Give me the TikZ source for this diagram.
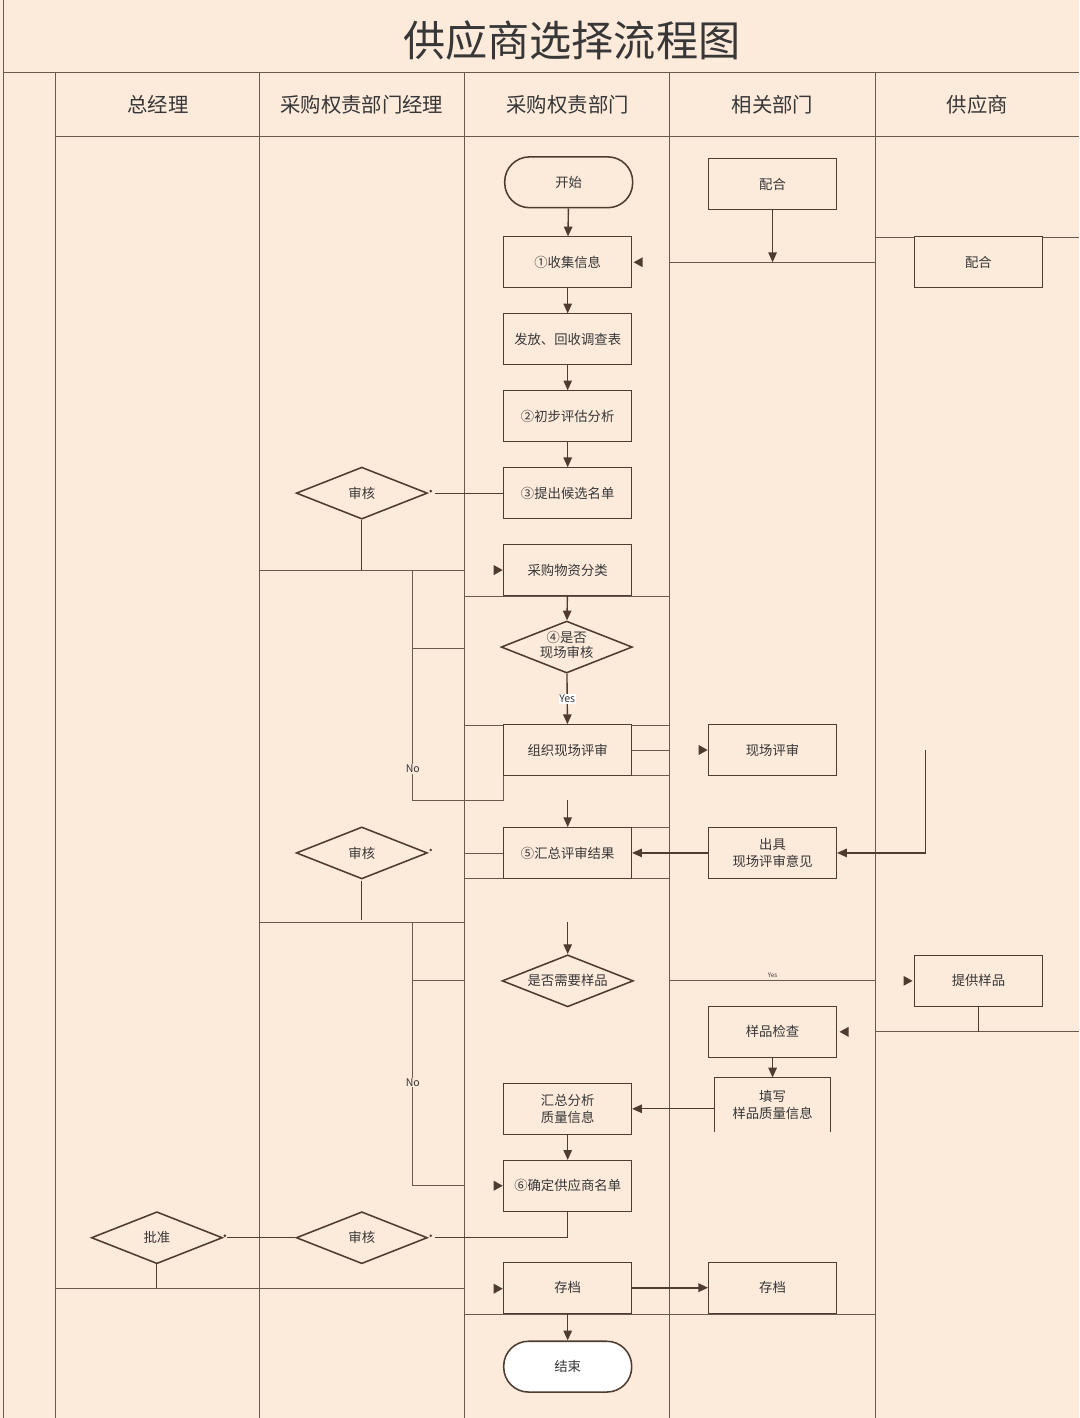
\documentclass[tikz,border=0pt]{standalone}
\usepackage{fontspec}
\setmainfont{Noto Sans CJK SC}
\usetikzlibrary{shapes.geometric,arrows.meta}
\definecolor{paper}{RGB}{252,234,219}
\definecolor{ink}{RGB}{78,60,48}
\definecolor{txt}{RGB}{55,55,55}
% stray arrow heads: tip point given
\newcommand{\headR}[1]{\fill[ink] #1 -- ++(-9,-5) -- ++(0,10) -- cycle;}
\newcommand{\headL}[1]{\fill[ink] #1 -- ++(9,-5) -- ++(0,10) -- cycle;}
\begin{document}
\begin{tikzpicture}[x=0.025cm, y=-0.025cm, color=ink,
  every node/.style={font=\fontsize{9.5}{12}\selectfont, text=txt},
  box/.style={draw=ink, line width=0.6pt, fill=paper, minimum width=3.2cm, minimum height=1.27cm, inner sep=1pt, align=center},
  term/.style={box, rounded corners=0.62cm, line width=1.1pt},
  dec/.style={draw=ink, diamond, aspect=2.5, line width=1.1pt, fill=paper, minimum width=3.28cm, minimum height=1.3cm, inner sep=0pt, align=center},
  arr/.style={-{Triangle[length=7pt,width=6pt]}, line width=1pt},
  lane/.style={ink!85, line width=0.55pt},
  head/.style={font=\fontsize{14.5}{16}\selectfont}]
  \fill[paper] (0,0) rectangle (1080,1418);
  % frame and lanes
  \draw[lane] (3,0) -- (3,1418) (3,72) -- (1080,72) (55,72) -- (55,1418) (55,136) -- (1080,136);
  \foreach \x in {260,465,670,876} \draw[lane] (\x,72) -- (\x,1418);
  \node (title) at (572,40) {\fontsize{30}{34}\selectfont 供应商选择流程图};
  \foreach \x/\lbl in {158/总经理,362/采购权责部门经理,568/采购权责部门,773/相关部门,978/供应商}
    \node[head] at (\x,104) {\lbl};
  % odd lane segments
  \draw[lane] (670,262) -- (876,262) (876,237) -- (1080,237);
  \draw[lane] (260,570) -- (465,570) (465,596) -- (670,596);
  \draw[lane] (413,570) -- (413,800) -- (504,800) -- (504,725) (413,648) -- (465,648);
  \draw[lane] (465,725) -- (670,725) (504,775) -- (670,775) (632,750) -- (670,750);
  \draw[lane] (465,853) -- (504,853) (504,827) -- (670,827) (465,878) -- (670,878);
  \draw[lane] (260,922) -- (465,922) (413,922) -- (413,1186) -- (465,1186) (413,981) -- (465,981);
  \draw[lane] (876,1032) -- (1080,1032) (55,1289) -- (465,1289) (465,1315) -- (876,1315);
  \draw[lane] (670,981) -- node[above=-1pt, font=\fontsize{4.5}{5}\selectfont] {Yes} (876,981);
  \node[fill=paper, inner sep=0.5pt, font=\fontsize{7.5}{8}\selectfont] at (413,769) {No};
  \node[fill=paper, inner sep=0.5pt, font=\fontsize{7.5}{8}\selectfont] at (413,1083) {No};
  % main column
  \node[term] (start) at (569,182) {开始};
  \node[box] (n1) at (568,262) {①收集信息};
  \node[box] (n2) at (568,339) {发放、回收调查表};
  \node[box] (n3) at (568,416) {②初步评估分析};
  \node[box] (n4) at (568,493) {③提出候选名单};
  \node[box] (cls) at (568,570) {采购物资分类};
  \node[dec] (q4) at (567,647) {};
  \node[align=center, font=\fontsize{9.5}{11}\selectfont] (q4t) at (567,645) {④是否\\现场审核};
  \node[box] (org) at (568,750) {组织现场评审};
  \node[box] (sum5) at (568,853) {⑤汇总评审结果};
  \node[dec] (qs) at (568,981) {是否需要样品};
  \node[box] (ana) at (568,1109) {汇总分析\\质量信息};
  \node[box] (list6) at (568,1186) {⑥确定供应商名单};
  \node[box] (arch) at (568,1288) {存档};
  \node[term, fill=white] (end) at (568,1367) {结束};
  % other lanes
  \node[box] (coop1) at (773,184) {配合};
  \node[box] (coop2) at (979,262) {配合};
  \node[box] (site) at (773,750) {现场评审};
  \node[box] (opin) at (773,853) {出具\\现场评审意见};
  \node[box] (prov) at (979,981) {提供样品};
  \node[box] (chk) at (773,1032) {样品检查};
  \node[minimum width=2.88cm, minimum height=1.35cm, align=center] (fillq) at (773,1105) {填写\\样品质量信息};
  \draw[line width=0.6pt] (fillq.south west) -- (fillq.north west) -- (fillq.north east) -- (fillq.south east);
  \node[box] (arch2) at (773,1288) {存档};
  \node[dec] (rv1) at (362,493) {审核};
  \node[dec] (rv2) at (362,853) {审核};
  \node[dec] (rv3) at (362,1238) {审核};
  \node[dec] (appr) at (157,1238) {批准};
  \coordinate (gap5) at (568,800);
  \coordinate (gapS) at (568,922);
  \coordinate (sup1) at (926,750);
  % connectors
  \foreach \a/\b in {start/n1,n1/n2,n2/n3,n3/n4,cls/q4,gap5/sum5,gapS/qs,chk/fillq,ana/list6,arch/end}
    \draw[arr] (\a) -- (\b);
  \draw[arr] (q4) -- node[fill=white, inner sep=0.5pt, font=\fontsize{7.5}{8}\selectfont] {Yes} (org);
  \draw[arr] (coop1) -- (coop1 |- n1);
  \draw[arr] (opin) -- (sum5);
  \draw[arr] (sup1) |- (opin.east);
  \draw[arr] (ana.east -| fillq.west) -- (ana.east);
  \draw[arr, line width=1.5pt] (arch) -- (arch2);
  \draw[line width=1pt] (prov) -- (prov |- chk);
  \draw[line width=0.8pt] (n4.west) -- ([xshift=5pt]rv1.east) (rv1.south) -- (rv1 |- cls);
  \draw[line width=0.8pt] (rv2.south) ++(0,1) -- ++(0,39);
  \draw[line width=0.8pt] (list6.south) |- ([xshift=5pt]rv3.east) (rv3.west) -- ([xshift=3pt]appr.east);
  \draw[line width=0.8pt] (appr.south) -- (appr |- arch);
  \foreach \p in {(431,491),(431,850),(431,1236),(225,1236)} \fill \p circle (1pt);
  \headL{(634,262)} \headR{(503,570)} \headR{(708,750)} \headR{(913,981)}
  \headL{(840,1032)} \headR{(503,1186)} \headR{(503,1289)}
\end{tikzpicture}
\end{document}
